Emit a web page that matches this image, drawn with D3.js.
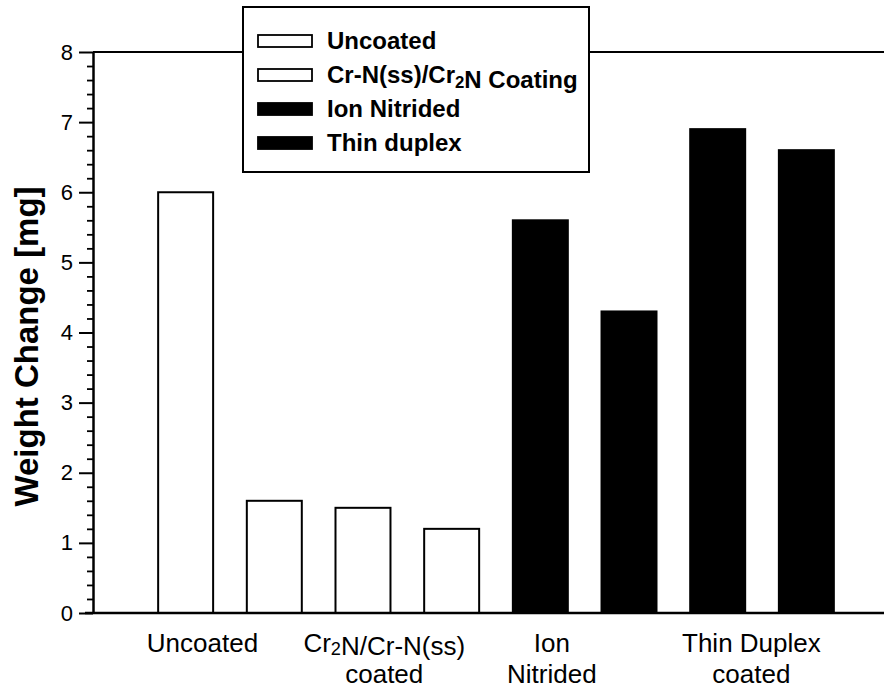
<!DOCTYPE html>
<html>
<head>
<meta charset="utf-8">
<script src="https://cdn.jsdelivr.net/npm/d3@7"></script>
<style>
  body { margin: 0; background: #fff; }
  svg { font-family: "Liberation Sans", Arial, Helvetica, sans-serif; }
</style>
</head>
<body>
<div id="vis"></div>
<script>
// data
const BAR_IDS = ["b1", "b2", "b3", "b4", "b5", "b6", "b7", "b8"];
const BAR_VALUES = [6.0, 1.6, 1.5, 1.2, 5.6, 4.3, 6.9, 6.6];
const BAR_TYPES = ["Uncoated", "Coating", "Coating", "Coating", "Ion", "Duplex", "Duplex", "Duplex"];
const Y_TICKS = [0, 1, 2, 3, 4, 5, 6, 7, 8];
// group labels: position in bar index units, lines of text
const GROUP_POS = [0.19, 2.24, 4.13, 6.38];
const GROUP_LINES = [["Uncoated"], ["Cr2N/Cr-N(ss)", "coated"], ["Ion", "Nitrided"], ["Thin Duplex", "coated"]];
const LEGEND_KEYS = ["Uncoated", "Coating", "Ion", "Duplex"];
const LEGEND_LABELS = ["Uncoated", "Cr-N(ss)/Cr2N Coating", "Ion Nitrided", "Thin duplex"];

const FRAME_WIDTH = 884;
const FRAME_HEIGHT = 694;
const MARGINS = {left: 93, right: 0, top: 52, bottom: 81};

const FILLS = {Uncoated: "#fff", Coating: "#fff", Ion: "#000", Duplex: "#000"};

const FRAME = d3.select("#vis")
    .append("svg")
    .attr("width", FRAME_WIDTH)
    .attr("height", FRAME_HEIGHT);

const X_SCALE = d3.scaleBand()
    .domain(BAR_IDS)
    .range([128, 864])
    .paddingInner(0.38)
    .paddingOuter(0.34);

const Y_SCALE = d3.scaleLinear()
    .domain([0, 8])
    .range([FRAME_HEIGHT - MARGINS.bottom, MARGINS.top]);

// bar index -> center of band
const IDX_SCALE = d3.scaleLinear()
    .domain([0, 1])
    .range([X_SCALE(BAR_IDS[0]) + X_SCALE.bandwidth() / 2,
            X_SCALE(BAR_IDS[1]) + X_SCALE.bandwidth() / 2]);

// top frame line
FRAME.append("line")
    .attr("x1", MARGINS.left).attr("x2", FRAME_WIDTH)
    .attr("y1", Y_SCALE(8)).attr("y2", Y_SCALE(8))
    .attr("stroke", "#000").attr("stroke-width", 2);

// bars
FRAME.selectAll(".bar")
    .data(BAR_VALUES)
    .enter()
    .append("rect")
    .attr("class", "bar")
    .attr("x", (d, i) => X_SCALE(BAR_IDS[i]))
    .attr("y", (d) => Y_SCALE(d))
    .attr("width", X_SCALE.bandwidth())
    .attr("height", (d) => Y_SCALE(0) - Y_SCALE(d))
    .attr("fill", (d, i) => FILLS[BAR_TYPES[i]])
    .attr("stroke", "#000")
    .attr("stroke-width", 2);

// x axis line
FRAME.append("line")
    .attr("x1", MARGINS.left - 8).attr("x2", FRAME_WIDTH)
    .attr("y1", Y_SCALE(0)).attr("y2", Y_SCALE(0))
    .attr("stroke", "#000").attr("stroke-width", 2.5);

// y axis minor ticks
const minorTicks = d3.range(0, 8.001, 0.2).filter((v) => Math.abs(v - Math.round(v)) > 0.01);
FRAME.append("g")
    .attr("transform", "translate(" + MARGINS.left + ",0)")
    .call(d3.axisLeft(Y_SCALE).tickValues(minorTicks).tickSize(6).tickFormat(""))
    .call((g) => g.select(".domain").remove())
    .selectAll("line").attr("stroke-width", 1.8);

// y axis major ticks
const yAxis = FRAME.append("g")
    .attr("transform", "translate(" + MARGINS.left + ",0)")
    .call(d3.axisLeft(Y_SCALE).tickValues(Y_TICKS).tickSize(14).tickSizeOuter(0).tickPadding(6));
yAxis.select(".domain").attr("stroke-width", 2.5);
yAxis.selectAll("line").attr("stroke-width", 2);
yAxis.selectAll("text")
    .style("font-size", "22px")
    .style("font-family", "'Liberation Sans', Arial, sans-serif")
    .attr("fill", "#000");

// y axis title
FRAME.append("text")
    .attr("transform", "translate(38," + (Y_SCALE(4) + 14) + ") rotate(-90)")
    .attr("text-anchor", "middle")
    .attr("font-size", "33px")
    .attr("font-weight", "bold")
    .text("Weight Change [mg]");

// helper to write text with "2" subscripts
function writeSub(sel, str, size, shift) {
    const parts = str.split(/(Cr2)/);
    parts.forEach((p) => {
        if (p === "Cr2") {
            sel.append("tspan").text("Cr");
            sel.append("tspan").attr("font-size", size * 0.7).attr("dy", shift).text("2");
            sel.append("tspan").attr("dy", -shift).text("");
        } else if (p.length) {
            sel.append("tspan").text(p);
        }
    });
}

// group labels
GROUP_LINES.forEach((lines, gi) => {
    lines.forEach((ln, li) => {
        const t = FRAME.append("text")
            .attr("x", IDX_SCALE(GROUP_POS[gi]))
            .attr("y", 652 + li * 31)
            .attr("text-anchor", "middle")
            .attr("font-size", "26px");
        writeSub(t, ln, 26, 3);
    });
});

// legend
const LEG = FRAME.append("g").attr("transform", "translate(243,7)");
LEG.append("rect")
    .attr("width", 346).attr("height", 165)
    .attr("fill", "#fff").attr("stroke", "#000").attr("stroke-width", 2);

const LEG_Y = d3.scalePoint().domain(LEGEND_KEYS).range([34, 136]);

LEGEND_KEYS.forEach((k, i) => {
    LEG.append("rect")
        .attr("x", 15).attr("y", LEG_Y(k) - 6)
        .attr("width", 54).attr("height", 12)
        .attr("fill", FILLS[k]).attr("stroke", "#000").attr("stroke-width", 1.8);
    const t = LEG.append("text")
        .attr("x", 84).attr("y", LEG_Y(k) + 8)
        .attr("font-size", "24px")
        .attr("font-weight", "bold");
    writeSub(t, LEGEND_LABELS[i], 24, 5);
});
</script>
</body>
</html>
